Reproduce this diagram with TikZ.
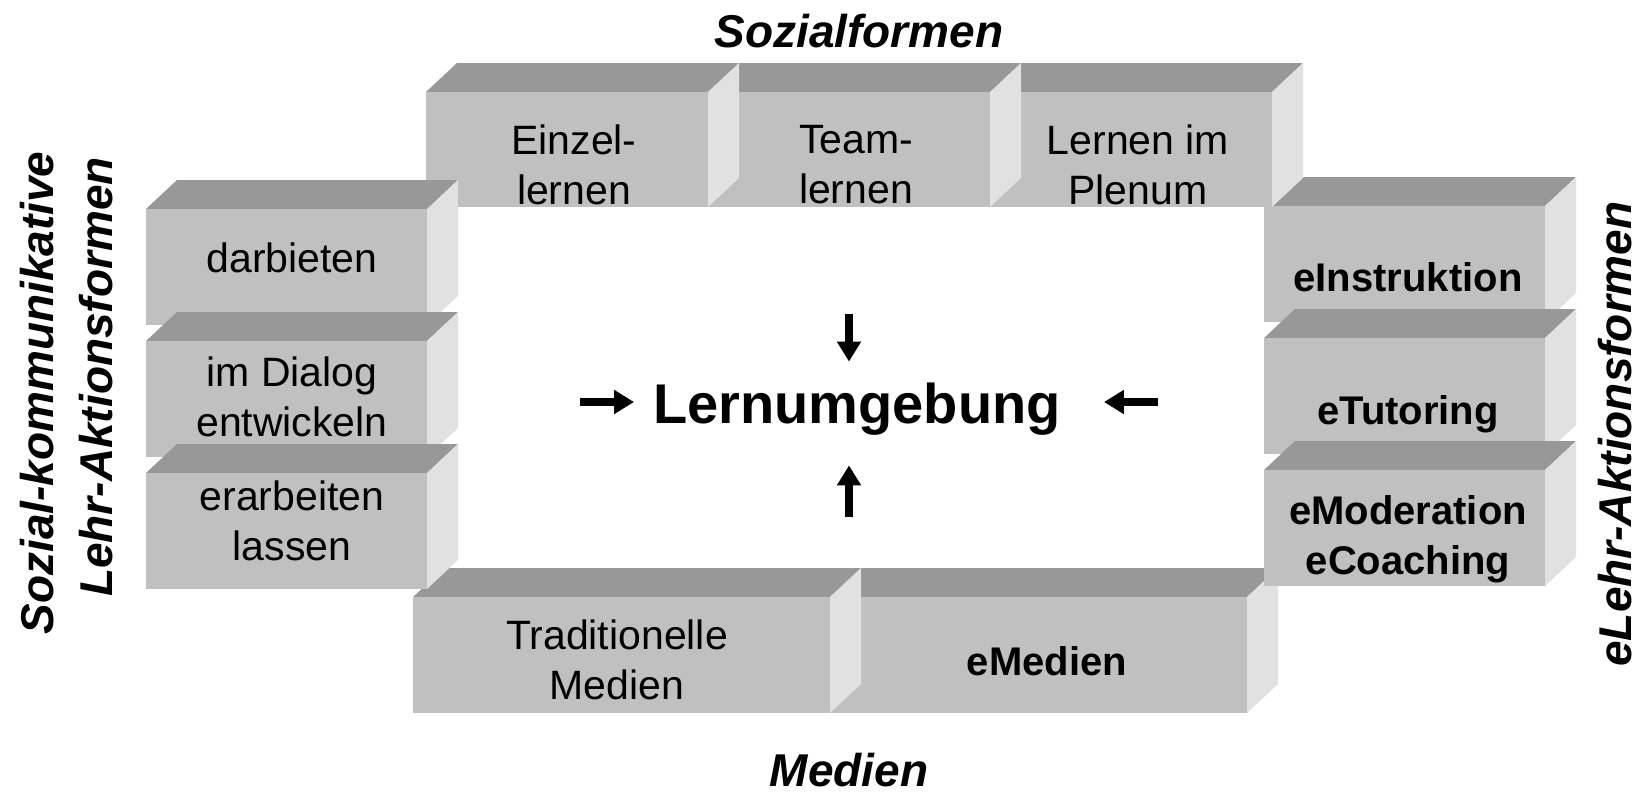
\documentclass[tikz,border=0pt]{standalone}
\usepackage{fontspec}
\setmainfont{Liberation Sans}
\usepackage{tikz}
\usetikzlibrary{arrows.meta}

\definecolor{frontgray}{RGB}{192,192,192}
\definecolor{topgray}{RGB}{152,152,152}
\definecolor{sidegray}{RGB}{225,225,225}

% front face (x1,y1)-(x2,y2), depth 31/29
\newcommand{\quader}[4]{%
  \fill[topface] (#1,#2) -- ++(31,-29) -- (#3+31,#2-29) -- (#3,#2) -- cycle;
  \fill[sideface] (#3,#2) -- (#3+31,#2-29) -- (#3+31,#4-29) -- (#3,#4) -- cycle;
  \fill[frontface] (#1,#2) rectangle (#3,#4);
}

\begin{document}
\begin{tikzpicture}[
    x=1pt, y=-1pt,
    frontface/.style={fill=frontgray},
    topface/.style={fill=topgray},
    sideface/.style={fill=sidegray},
    boxtext/.style={align=center, inner sep=0pt, font=\fontsize{41}{50}\selectfont},
    boxbold/.style={align=center, inner sep=0pt, font=\fontsize{40}{50}\selectfont\bfseries},
    heading/.style={inner sep=0pt, font=\fontsize{46}{55}\selectfont\bfseries\itshape},
    pfeil/.style={-{Triangle[length=20pt,width=23pt]}, line width=8pt}
]
\useasboundingbox (0,0) rectangle (1639,795);
\fill[white] (0,0) rectangle (1639,795);

% Bottom row
\quader{830}{597}{1247}{713}
\quader{413}{597}{830}{713}
\node[boxtext] (tradmed) at (617,660) {Traditionelle\\Medien};
\node[boxbold] (emedien) at (1047,661) {eMedien};

% Right column
\quader{1264}{206}{1545}{322}
\quader{1264}{338}{1545}{454}
\quader{1264}{470}{1545}{586}
\node[boxbold] (einstr) at (1408,277) {eInstruktion};
\node[boxbold] (etutor) at (1408,414) {eTutoring};
\node[boxbold] (emod) at (1408,539) {eModeration\\eCoaching};

% Top row
\quader{990}{92}{1272}{207}
\quader{708}{92}{990}{207}
\quader{426}{92}{708}{207}
\node[boxtext] (einzel) at (574,165) {Einzel-\\lernen};
\node[boxtext] (team) at (856,165) {Team-\\lernen};
\node[boxtext] (plenum) at (1138,165) {Lernen im\\Plenum};

% Left column
\quader{146}{209}{427}{325}
\quader{146}{341}{427}{457}
\quader{146}{473}{427}{589}
\node[boxtext] (darbieten) at (292,258) {darbieten};
\node[boxtext] (dialog) at (292,397) {im Dialog\\entwickeln};
\node[boxtext] (erarbeiten) at (292,521) {erarbeiten\\lassen};

% Headings
\node[heading] (sozialf) at (859,31) {Sozialformen};
\node[heading] (medien) at (849,770) {Medien};
\node[heading, rotate=90] (sozkom) at (37,393) {Sozial-kommunikative};
\node[heading, rotate=90] (lehrak) at (96,377) {Lehr-Aktionsformen};
\node[heading, rotate=90] (elehr) at (1615,434) {eLehr-Aktionsformen};

% Centre
\node[inner sep=0pt, font=\fontsize{56}{64}\selectfont\bfseries] (lern) at (857,409) {Lernumgebung};

\coordinate (pOben) at (849,314);
\coordinate (pUnten) at (849,517);
\coordinate (pLinks) at (580,402);
\coordinate (pRechts) at (1158,402);

% Arrows
\draw[pfeil, shorten >=21pt] (pOben) -- (pOben |- lern.north);
\draw[pfeil, shorten >=30pt] (pUnten) -- (pUnten |- lern.south);
\draw[pfeil, shorten >=19pt] (pLinks) -- (pLinks -| lern.west);
\draw[pfeil, shorten >=43pt] (pRechts) -- (pRechts -| lern.east);

\end{tikzpicture}
\end{document}
